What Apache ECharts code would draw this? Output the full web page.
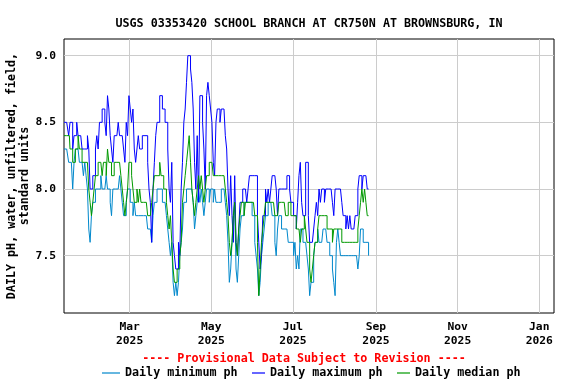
<!DOCTYPE html>
<html>
<head>
<meta charset="utf-8">
<script src="https://cdn.jsdelivr.net/npm/echarts@6/dist/echarts.min.js"></script>
<style>
html,body{margin:0;padding:0;background:#fff;}
#chart{width:576px;height:384px;}
</style>
</head>
<body>
<div id="chart"></div>
<script>
// ---- Data (daily values starting 2025-01-11) ----
var startDate = [2025, 0, 11];
var dailyMin = [
8.3,8.3,8.3,8.3,8.2,8.2,8.2,8.0,8.2,8.3,
8.3,8.3,8.2,8.2,8.2,8.1,8.2,8.1,8.0,7.7,
7.6,7.8,7.9,7.9,8.0,8.0,8.0,8.0,8.1,8.0,
8.0,8.0,8.1,8.0,8.0,7.9,7.8,8.0,8.0,8.0,
8.0,8.0,8.1,8.0,7.9,7.8,7.8,7.9,8.0,8.0,
7.9,7.9,7.8,7.9,7.8,7.8,7.8,7.8,7.8,7.8,
7.8,7.8,7.8,7.7,7.7,7.7,7.6,7.8,7.9,7.9,
8.0,8.0,8.0,8.0,7.9,7.9,7.9,7.8,7.7,7.6,
7.5,7.6,7.3,7.2,7.3,7.2,7.3,7.5,7.6,7.7,
7.9,7.9,8.0,8.0,8.0,8.0,8.0,7.9,7.7,7.8,
7.9,8.0,7.9,8.0,7.9,7.8,7.9,8.0,8.0,7.9,
8.0,8.0,7.9,8.0,7.9,7.9,7.9,7.9,8.0,8.0,
8.0,7.9,7.8,7.6,7.3,7.4,7.6,7.8,7.9,7.4,
7.3,7.5,7.7,7.8,7.8,7.9,7.9,7.9,7.9,7.9,
7.9,7.8,7.8,7.6,7.5,7.4,7.2,7.3,7.5,7.6,
7.7,7.8,7.8,7.9,7.9,7.9,7.8,7.8,7.6,7.5,
7.7,7.8,7.8,7.7,7.7,7.7,7.7,7.7,7.6,7.6,
7.6,7.6,7.5,7.6,7.4,7.5,7.4,7.7,7.7,7.6,
7.6,7.6,7.5,7.4,7.2,7.3,7.3,7.5,7.6,7.6,
7.7,7.6,7.6,7.6,7.7,7.7,7.7,7.6,7.6,7.5,
7.5,7.4,7.3,7.2,7.6,7.7,7.6,7.5,7.5,7.5,
7.5,7.5,7.5,7.5,7.5,7.5,7.5,7.5,7.5,7.5,
7.4,7.5,7.7,7.7,7.6,7.6,7.6,7.6,7.5
];
var dailyMax = [
8.5,8.5,8.5,8.5,8.4,8.5,8.5,8.3,8.4,8.4,
8.5,8.4,8.4,8.4,8.3,8.3,8.3,8.3,8.4,8.3,
8.0,8.0,8.1,8.1,8.3,8.4,8.3,8.5,8.5,8.6,
8.6,8.5,8.4,8.7,8.6,8.4,8.3,8.2,8.4,8.4,
8.4,8.5,8.4,8.4,8.4,8.3,8.2,8.5,8.4,8.7,
8.6,8.5,8.6,8.3,8.2,8.3,8.4,8.3,8.3,8.4,
8.4,8.4,8.4,8.2,8.0,7.9,7.6,8.0,8.2,8.4,
8.5,8.5,8.7,8.7,8.6,8.6,8.5,8.5,8.3,8.0,
7.9,8.2,7.6,7.5,7.4,7.4,7.6,7.5,8.0,8.2,
8.5,8.6,8.8,9.0,9.0,8.9,8.8,8.6,8.2,8.0,
8.4,7.9,8.7,8.7,8.5,8.3,8.0,8.7,8.8,8.7,
8.6,8.5,8.2,8.1,8.5,8.6,8.6,8.5,8.6,8.6,
8.6,8.4,8.3,8.0,7.8,8.1,7.8,7.6,8.1,7.6,
7.5,7.7,7.9,7.9,8.0,8.0,8.0,7.9,8.0,8.1,
8.1,8.1,8.1,8.1,8.1,7.8,7.6,7.4,7.5,7.8,
7.8,8.0,7.9,8.0,7.9,8.0,8.1,8.1,8.1,8.0,
7.8,8.0,8.0,8.0,8.0,8.0,8.0,8.1,8.1,8.0,
7.9,7.9,7.8,7.8,7.7,7.9,8.1,8.2,7.9,7.8,
7.8,8.2,8.2,7.8,7.6,7.6,7.6,7.7,7.8,7.9,
7.8,8.0,7.9,8.0,8.0,7.9,8.0,8.0,8.0,8.0,
8.0,7.9,7.8,8.0,8.0,8.0,8.0,8.0,7.9,7.8,
7.8,7.7,7.8,7.7,7.8,7.7,7.7,7.7,7.8,7.8,
8.0,8.1,8.1,8.0,8.1,8.1,8.1,8.0,8.0
];
var dailyMedian = [
8.4,8.4,8.4,8.4,8.4,8.3,8.3,8.2,8.2,8.3,
8.3,8.4,8.3,8.3,8.2,8.2,8.2,8.2,8.2,8.0,
7.9,7.8,7.9,8.0,8.1,8.1,8.2,8.2,8.2,8.1,
8.2,8.2,8.1,8.3,8.2,8.2,8.1,8.1,8.2,8.2,
8.2,8.2,8.2,8.1,8.0,7.9,7.8,7.9,8.0,8.2,
8.2,8.1,8.0,7.9,7.9,8.0,7.9,8.0,7.9,7.9,
7.9,7.9,7.9,7.8,7.8,7.8,7.9,8.0,8.1,8.1,
8.1,8.1,8.2,8.1,8.1,8.0,8.0,7.9,7.8,7.7,
7.8,7.6,7.4,7.3,7.3,7.4,7.4,7.5,7.6,7.9,
8.0,8.1,8.2,8.3,8.4,8.2,8.0,7.9,7.8,7.9,
8.0,8.1,8.0,8.1,8.0,7.9,8.0,8.1,8.1,8.2,
8.2,8.2,8.1,8.1,8.1,8.1,8.1,8.1,8.1,8.1,
8.1,8.0,7.9,7.8,7.6,7.5,7.6,7.8,7.9,7.6,
7.5,7.7,7.8,7.9,7.9,7.8,7.9,7.9,7.9,7.9,
7.9,7.9,7.9,7.8,7.8,7.6,7.2,7.4,7.6,7.7,
7.8,7.9,7.9,7.9,7.9,7.9,7.9,7.9,7.8,7.8,
7.8,7.9,7.9,7.9,7.9,7.9,7.8,7.8,7.9,7.9,
7.8,7.8,7.8,7.8,7.7,7.7,7.7,7.6,7.7,7.7,
7.8,7.7,7.6,7.6,7.4,7.3,7.4,7.5,7.6,7.6,
7.7,7.8,7.8,7.8,7.8,7.8,7.8,7.7,7.7,7.7,
7.7,7.6,7.7,7.7,7.7,7.7,7.7,7.7,7.6,7.6,
7.6,7.6,7.6,7.6,7.6,7.6,7.6,7.6,7.6,7.6,
7.7,7.8,7.9,8.0,7.9,8.0,7.9,7.8,7.8
];
var yTicks = [7.5, 8.0, 8.5, 9.0];
var xTickDates = [[2025,2,1],[2025,4,1],[2025,6,1],[2025,8,1],[2025,10,1],[2026,0,1]];
var monthNames = ['Jan','Feb','Mar','Apr','May','Jun','Jul','Aug','Sep','Oct','Nov','Dec'];
var xRange = [[2025,0,11],[2026,0,12]];
var yRange = [7.07, 9.125];
var titleText = 'USGS 03353420 SCHOOL BRANCH AT CR750N AT BROWNSBURG, IN';
var provisionalText = '---- Provisional Data Subject to Revision ----';
var yName = 'DAILY pH, water, unfiltered, field,\nstandard units';
var seriesNames = ['Daily minimum ph', 'Daily maximum ph', 'Daily median ph'];
var seriesColors = ['#0088cc', '#0000ff', '#009900'];

// ---- Build ----
function ts(a){ return new Date(a[0], a[1], a[2]).getTime(); }
function toPairs(arr){
  var out = [];
  for (var i = 0; i < arr.length; i++) {
    out.push([new Date(startDate[0], startDate[1], startDate[2] + i).getTime(), arr[i]]);
  }
  return out;
}
var xTickTs = xTickDates.map(ts);
var font = 'DejaVu Sans Mono';

var gridMarks = xTickTs.map(function(t){ return {xAxis: t}; })
  .concat(yTicks.map(function(v){ return {yAxis: v}; }));

var allSeries = [
  {
    name: '__grid', type: 'line', data: [], z: 1, silent: true,
    markLine: {
      silent: true, symbol: ['none','none'], z: 1, animation: false,
      label: {show: false},
      lineStyle: {color: '#cccccc', width: 1, type: 'solid'},
      emphasis: {disabled: true},
      data: gridMarks
    }
  }
];
[dailyMin, dailyMax, dailyMedian].forEach(function(arr, i){
  allSeries.push({
    name: seriesNames[i], type: 'line', data: toPairs(arr), step: 'middle',
    showSymbol: false, symbol: 'none', z: 3 + i,
    lineStyle: {color: seriesColors[i], width: 1},
    itemStyle: {color: seriesColors[i]},
    animation: false
  });
});

var legendLefts = [102, 252, 397];
var legendIconW = [18, 13, 13];
var legendTextStyle = {fontFamily: font, fontSize: 11.7, fontWeight: 'bold', color: '#000'};
var legends = seriesNames.map(function(n, i){
  return {
    data: [{name: n, icon: 'rect'}],
    left: legendLefts[i], top: 367, itemWidth: legendIconW[i], itemHeight: 1.2,
    selectedMode: false, padding: 0,
    textStyle: legendTextStyle
  };
});

var chart = echarts.init(document.getElementById('chart'), null, {renderer: 'canvas'});
chart.setOption({
  animation: false,
  backgroundColor: '#ffffff',
  textStyle: {fontFamily: font},
  title: [
    {text: titleText, left: 304, top: 13, textAlign: 'center',
     textStyle: {fontFamily: font, fontSize: 11.7, fontWeight: 'bold', color: '#000'}},
    {text: provisionalText, left: 304, top: 353, textAlign: 'center', padding: 0,
     textStyle: {fontFamily: font, fontSize: 11.7, fontWeight: 'bold', color: '#ff0000'}}
  ],
  legend: legends,
  grid: {left: 64, right: 22, top: 39, bottom: 71, show: true,
         borderColor: '#000', borderWidth: 1, backgroundColor: 'transparent',
         containLabel: false, outerBoundsMode: 'none'},
  xAxis: {
    type: 'value', min: ts(xRange[0]), max: ts(xRange[1]),
    splitLine: {show: false}, axisTick: {show: false},
    axisLine: {show: false},
    axisLabel: {
      customValues: xTickTs,
      fontFamily: font, fontSize: 11.3, fontWeight: 'bold', color: '#000',
      lineHeight: 14, margin: 7, hideOverlap: false,
      formatter: function(v){ var d = new Date(v); return monthNames[d.getMonth()] + '\n' + d.getFullYear(); }
    }
  },
  yAxis: {
    type: 'value', min: yRange[0], max: yRange[1],
    splitLine: {show: false}, axisTick: {show: false}, axisLine: {show: false},
    axisLabel: {
      customValues: yTicks, fontFamily: font, fontSize: 11.3, fontWeight: 'bold', color: '#000',
      margin: 8, formatter: function(v){ return v.toFixed(1); }
    },
    name: yName, nameLocation: 'middle', nameGap: 33, nameRotate: 90, nameMoveOverlap: false,
    nameTextStyle: {fontFamily: font, fontSize: 11.7, fontWeight: 'bold', color: '#000', lineHeight: 13, align: 'center'}
  },
  series: allSeries
});
</script>
</body>
</html>
